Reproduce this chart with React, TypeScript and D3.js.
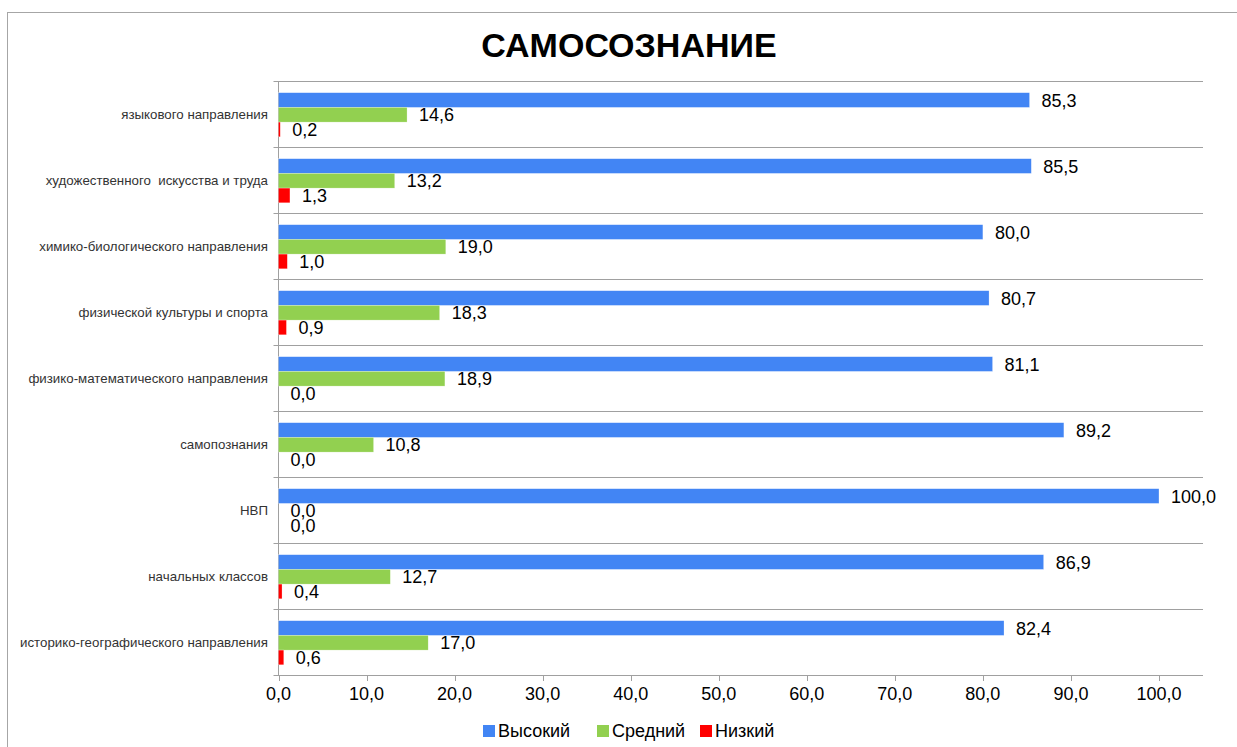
import React, { useEffect, useRef } from 'react';
import * as d3 from 'd3';

const categories = [
  'языкового направления',
  'художественного  искусства и труда',
  'химико-биологического направления',
  'физической культуры и спорта',
  'физико-математического направления',
  'самопознания',
  'НВП',
  'начальных классов',
  'историко-географического направления'
];
const highValues = [85.3, 85.5, 80.0, 80.7, 81.1, 89.2, 100.0, 86.9, 82.4];
const midValues = [14.6, 13.2, 19.0, 18.3, 18.9, 10.8, 0.0, 12.7, 17.0];
const lowValues = [0.2, 1.3, 1.0, 0.9, 0.0, 0.0, 0.0, 0.4, 0.6];
const seriesNames = ['Высокий', 'Средний', 'Низкий'];
const seriesColors = ['#4285F4', '#92D050', '#FF0000'];
const xTicks = [0, 10, 20, 30, 40, 50, 60, 70, 80, 90, 100];

const W = 1237;
const H = 747;
const FONT = 'Arial, "Liberation Sans", sans-serif';
const fmt = (v: number) => v.toFixed(1).replace('.', ',');

const App: React.FC = () => {
  const svgRef = useRef<SVGSVGElement>(null);

  useEffect(() => {
    if (!svgRef.current) return;
    const svg = d3.select(svgRef.current);
    svg.selectAll('*').remove();

    const left = 278.5;
    const top = 81;
    const bottom = 675;

    const x = d3.scaleLinear().domain([0, 105]).range([left, 1203]);
    const y = d3.scaleBand<string>().domain(categories).range([top, bottom]);
    // three bars inside each category band
    const inner = d3.scaleBand<string>()
      .domain(seriesNames)
      .range([11.7, 11.7 + 44.1]);

    // chart border
    svg.append('rect')
      .attr('x', 7.5).attr('y', 12.5)
      .attr('width', W + 20).attr('height', H + 20)
      .attr('fill', 'white')
      .attr('stroke', '#a6a6a6');

    // title
    svg.append('text')
      .attr('x', 629).attr('y', 57)
      .attr('text-anchor', 'middle')
      .style('font-family', FONT)
      .style('font-size', '34px')
      .style('font-weight', 'bold')
      .text('САМОСОЗНАНИЕ');

    // horizontal grid at category boundaries
    const bounds = categories.map(c => y(c)!).concat([bottom]);
    svg.append('g').selectAll('line')
      .data(bounds)
      .enter().append('line')
      .attr('x1', left - 5).attr('x2', x(105))
      .attr('y1', d => Math.round(d) + 0.5).attr('y2', d => Math.round(d) + 0.5)
      .attr('stroke', '#a0a0a0');

    // y axis line
    svg.append('line')
      .attr('x1', left).attr('x2', left)
      .attr('y1', top).attr('y2', bottom + 0.5)
      .attr('stroke', '#a0a0a0');

    // x ticks
    svg.append('g').selectAll('line')
      .data(xTicks)
      .enter().append('line')
      .attr('x1', d => Math.round(x(d)) + 0.5).attr('x2', d => Math.round(x(d)) + 0.5)
      .attr('y1', bottom).attr('y2', bottom + 6)
      .attr('stroke', '#a0a0a0');

    svg.append('g').selectAll('text')
      .data(xTicks)
      .enter().append('text')
      .attr('x', d => x(d))
      .attr('y', bottom + 25)
      .attr('text-anchor', 'middle')
      .style('font-family', FONT)
      .style('font-size', '18px')
      .style('fill', '#000')
      .text(d => fmt(d));

    // category labels
    svg.append('g').selectAll('text')
      .data(categories)
      .enter().append('text')
      .attr('x', 268)
      .attr('y', d => y(d)! + y.bandwidth() / 2 + 5)
      .attr('text-anchor', 'end')
      .style('font-family', FONT)
      .style('font-size', '13.3px')
      .style('fill', '#333')
      .style('white-space', 'pre')
      .text(d => d);

    const series = [highValues, midValues, lowValues];
    series.forEach((vals, si) => {
      const g = svg.append('g');
      g.selectAll('rect')
        .data(vals)
        .enter().append('rect')
        .attr('x', left)
        .attr('y', (_d, i) => y(categories[i])! + inner(seriesNames[si])!)
        .attr('width', d => x(d) - left)
        .attr('height', inner.bandwidth())
        .attr('fill', seriesColors[si])
        .attr('stroke', 'rgba(255,255,255,0.5)')
        .attr('stroke-width', 0.5);

      g.selectAll('text')
        .data(vals)
        .enter().append('text')
        .attr('x', d => x(d) + 12)
        .attr('y', (_d, i) => y(categories[i])! + inner(seriesNames[si])! + inner.bandwidth() / 2 + 6.5)
        .style('font-family', FONT)
        .style('font-size', '18px')
        .style('fill', '#000')
        .text(d => fmt(d));
    });

    // legend
    const legendX = [483, 597, 700];
    const lg = svg.append('g');
    seriesNames.forEach((name, i) => {
      lg.append('rect')
        .attr('x', legendX[i]).attr('y', 725)
        .attr('width', 12).attr('height', 12)
        .attr('fill', seriesColors[i]);
      lg.append('text')
        .attr('x', legendX[i] + 15).attr('y', 737)
        .style('font-family', FONT)
        .style('font-size', '18px')
        .style('fill', '#000')
        .text(name);
    });
  }, []);

  return (
    <svg
      ref={svgRef}
      width={W}
      height={H}
      style={{ position: 'absolute', left: 0, top: 0, background: 'white' }}
    />
  );
};

export default App;
